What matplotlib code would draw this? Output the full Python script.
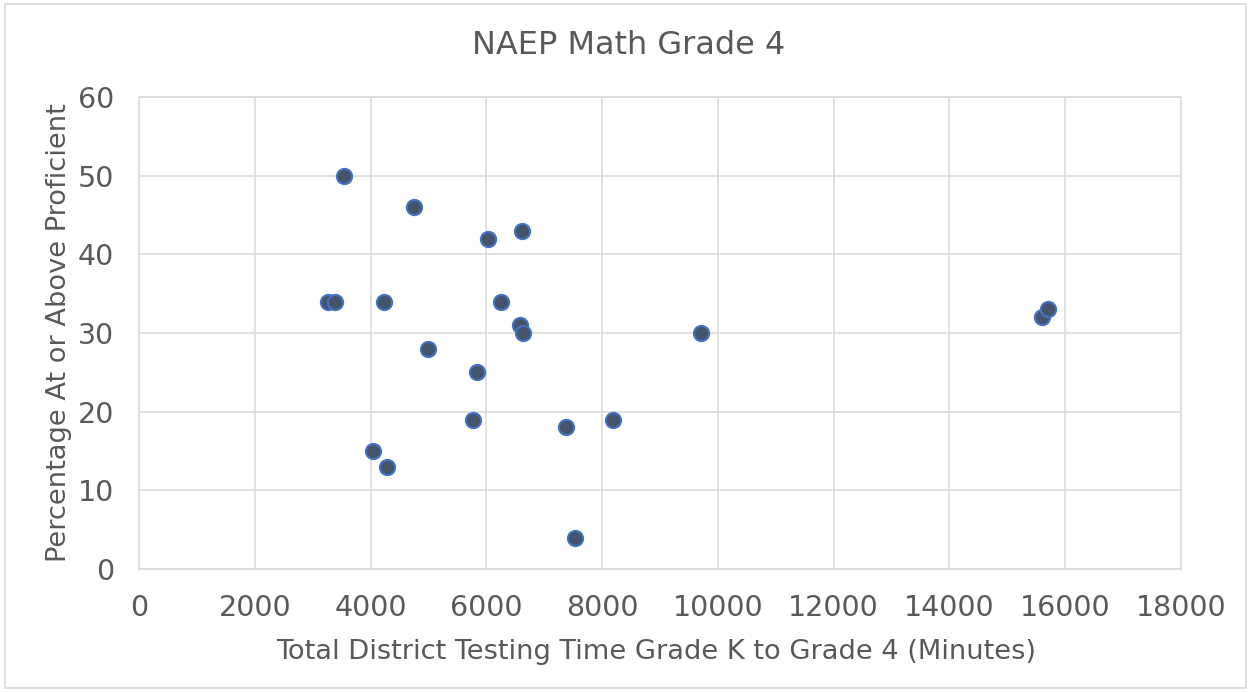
import matplotlib
matplotlib.use("Agg")
import matplotlib.pyplot as plt
from matplotlib.patches import Rectangle

# testing minutes (K-4) vs percent at/above proficient
minutes = [3540, 4755, 6033, 6615, 3258, 3390, 4225, 6252, 6573, 6642,
           4991, 5838, 5762, 7368, 8180, 4047, 4283, 7530, 9713, 15596, 15710]
proficient = [50, 46, 42, 43, 34, 34, 34, 34, 31, 30,
              28, 25, 19, 18, 19, 15, 13, 4, 30, 32, 33]

xticks = list(range(0, 18001, 2000))
yticks = list(range(0, 61, 10))

txt = "#595959"
grid = "#D9D9D9"

fig = plt.figure(figsize=(12.51, 6.92), dpi=100)
ax = fig.add_axes([139 / 1251, 1 - 569 / 692, (1181 - 139) / 1251, (569 - 97) / 692])

ax.scatter(minutes, proficient, s=120, color="#44546A", edgecolors="#4472C4",
           linewidths=1.5, zorder=3)

ax.set_xlim(0, 18000)
ax.set_ylim(0, 60)
ax.set_xticks(xticks)
ax.set_yticks(yticks)
ax.grid(True, color=grid, linewidth=1.1)
ax.set_axisbelow(True)
for s in ax.spines.values():
    s.set_color(grid)
    s.set_linewidth(1.1)
ax.tick_params(length=0, labelsize=20.5, labelcolor=txt)
ax.tick_params(axis="x", pad=18)
ax.tick_params(axis="y", pad=18)

ax.set_xlabel("Total District Testing Time Grade K to Grade 4 (Minutes)",
              fontsize=19.6, color=txt)
ax.set_ylabel("Percentage At or Above Proficient", fontsize=19.6, color=txt, labelpad=4)
ax.xaxis.set_label_coords((656 - 139) / (1181 - 139), -70 / (569 - 97))
fig.text(629 / 1251, 1 - 45 / 692, "NAEP Math Grade 4", fontsize=23, color=txt,
         ha="center", va="center")

fig.patches.append(Rectangle((5 / 1251, 4 / 692), 1241 / 1251, 684 / 692,
                             transform=fig.transFigure, fill=False,
                             edgecolor=grid, linewidth=1.2))

fig.savefig("out.png", dpi=100)
